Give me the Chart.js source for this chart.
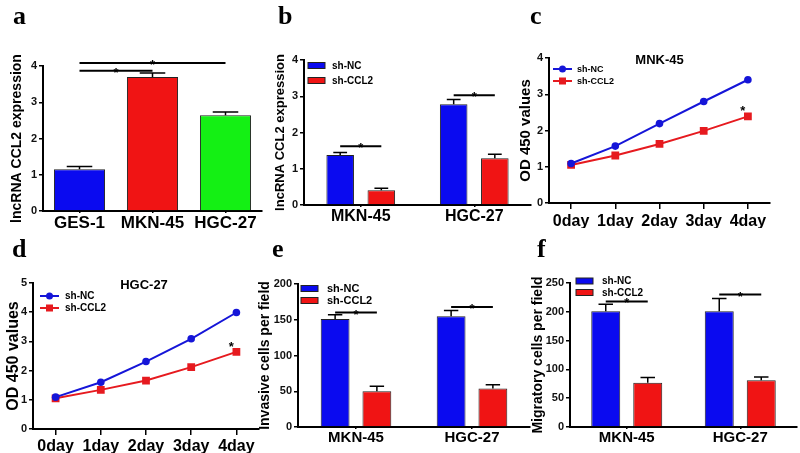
<!DOCTYPE html>
<html><head><meta charset="utf-8">
<script src="https://cdn.jsdelivr.net/npm/chart.js@4.4.1/dist/chart.umd.min.js"></script>
<style>
html,body{margin:0;padding:0;background:#fff;}
#wrap{position:relative;width:800px;height:453px;overflow:hidden;background:#fff;}
canvas{position:absolute;}
.lab{position:absolute;font-family:"Liberation Serif","Times New Roman",serif;font-weight:bold;font-size:26px;line-height:26px;color:#000;}
</style></head><body>
<div id="wrap">
<canvas id="ca" width="265" height="232" style="left:0;top:0"></canvas>
<canvas id="cb" width="268" height="228" style="left:265px;top:0"></canvas>
<canvas id="cc" width="285" height="228" style="left:515px;top:0"></canvas>
<canvas id="cd" width="265" height="225" style="left:0;top:228px"></canvas>
<canvas id="ce" width="277" height="225" style="left:255px;top:228px"></canvas>
<canvas id="cf" width="272" height="225" style="left:528px;top:228px"></canvas>
<div class="lab" style="left:13px;top:3px">a</div>
<div class="lab" style="left:278px;top:3px">b</div>
<div class="lab" style="left:530px;top:3px">c</div>
<div class="lab" style="left:12px;top:236px">d</div>
<div class="lab" style="left:272px;top:236px">e</div>
<div class="lab" style="left:537px;top:236px">f</div>
</div>
<script>
// ---------- data ----------
const seriesNames = ['sh-NC', 'sh-CCL2'];
// panel a
const catA = ['GES-1', 'MKN-45', 'HGC-27'];
const valA = [1.15, 3.70, 2.64];
const errA = [0.08, 0.11, 0.09];
const sigAY = [3.87, 4.08];
// panel b
const catB = ['MKN-45', 'HGC-27'];
const ncB = [1.38, 2.78];
const ncBErr = [0.07, 0.13];
const ccl2B = [0.41, 1.29];
const ccl2BErr = [0.05, 0.11];
const sigBY = [1.62, 3.03];
// panel c / d
const days = ['0day', '1day', '2day', '3day', '4day'];
const ncC = [1.09, 1.57, 2.19, 2.80, 3.40];
const ccl2C = [1.05, 1.31, 1.63, 1.99, 2.39];
const ncD = [1.09, 1.60, 2.31, 3.09, 3.99];
const ccl2D = [1.05, 1.34, 1.66, 2.12, 2.64];
// panel e
const catE = ['MKN-45', 'HGC-27'];
const ncE = [151, 155];
const ncEErr = [6, 8];
const ccl2E = [50, 54];
const ccl2EErr = [7, 5];
const sigEY = [160, 168];
// panel f
const catF = ['MKN-45', 'HGC-27'];
const ncF = [201, 201];
const ncFErr = [12, 22];
const ccl2F = [77, 81];
const ccl2FErr = [9, 6];
const sigFY = [218, 230];

// ---------- style ----------
const F = '"Liberation Sans", Arial, sans-serif';
const BLUE = '#0a0af0', RED = '#f01414', GREEN = '#14f014';
const LBLUE = '#1515d8', LRED = '#e61a1f';

const decor = {
  id: 'decor',
  afterDatasetsDraw(chart, args, o) {
    const ctx = chart.ctx, ys = chart.scales.y, ca = chart.chartArea;
    ctx.save();
    ctx.strokeStyle = '#000'; ctx.fillStyle = '#000';
    (o.errors || []).forEach((errs, di) => {
      if (!errs) return;
      chart.getDatasetMeta(di).data.forEach((el, i) => {
        const v = chart.data.datasets[di].data[i];
        const yt = ys.getPixelForValue(v + errs[i]);
        const cw = el.width * 0.5;
        ctx.lineWidth = 1.5;
        ctx.beginPath();
        ctx.moveTo(el.x, el.y); ctx.lineTo(el.x, yt);
        ctx.moveTo(el.x - cw / 2, yt); ctx.lineTo(el.x + cw / 2, yt);
        ctx.stroke();
      });
    });
    (o.sig || []).forEach(s => {
      const a = chart.getDatasetMeta(s.from[0]).data[s.from[1]];
      const b = chart.getDatasetMeta(s.to[0]).data[s.to[1]];
      const y = ys.getPixelForValue(s.y);
      ctx.lineWidth = 2;
      ctx.beginPath(); ctx.moveTo(a.x, y); ctx.lineTo(b.x, y); ctx.stroke();
      ctx.font = 'bold 13px ' + F; ctx.textAlign = 'center'; ctx.textBaseline = 'alphabetic';
      ctx.fillText('*', (a.x + b.x) / 2, y + 6);
    });
    (o.pointStars || []).forEach(p => {
      const el = chart.getDatasetMeta(p[0]).data[p[1]];
      ctx.font = 'bold 13px ' + F; ctx.textAlign = 'center'; ctx.textBaseline = 'alphabetic';
      ctx.fillText('*', el.x - 5, el.y - 1);
    });
    if (o.title) {
      ctx.font = 'bold ' + o.title.size + 'px ' + F; ctx.textAlign = 'center'; ctx.textBaseline = 'middle';
      ctx.fillText(o.title.text, (ca.left + ca.right) / 2 + o.title.dx, ca.top + o.title.dy);
    }
    if (o.legend) {
      const L = o.legend;
      chart.data.datasets.forEach((ds, i) => {
        const cy = ca.top + L.y + i * L.dy;
        const x0 = ca.left + L.x;
        if (L.type === 'bar') {
          ctx.fillStyle = ds.backgroundColor;
          ctx.fillRect(x0, cy - 3, 17, 6);
          ctx.strokeStyle = '#222'; ctx.lineWidth = 1;
          ctx.strokeRect(x0, cy - 3, 17, 6);
        } else {
          ctx.strokeStyle = ds.borderColor; ctx.fillStyle = ds.borderColor; ctx.lineWidth = 2;
          ctx.beginPath(); ctx.moveTo(x0, cy); ctx.lineTo(x0 + 19, cy); ctx.stroke();
          if (ds.pointStyle === 'rect') ctx.fillRect(x0 + 9.5 - 3.5, cy - 3.5, 7, 7);
          else { ctx.beginPath(); ctx.arc(x0 + 9.5, cy, 3.5, 0, Math.PI * 2); ctx.fill(); }
        }
        ctx.fillStyle = '#000';
        ctx.font = 'bold ' + L.size + 'px ' + F; ctx.textAlign = 'left'; ctx.textBaseline = 'middle';
        ctx.fillText(ds.label, ca.left + L.tx, cy + 0.5);
      });
    }
    ctx.restore();
  }
};

function yScale(max, step, title, w, tsize, tpad) {
  return {
    min: 0, max: max,
    ticks: { stepSize: step, color: '#111', font: { family: F, weight: 'bold', size: 11 }, padding: 2 },
    grid: { display: true, drawOnChartArea: false, drawTicks: true, tickLength: 4, color: '#000', lineWidth: 1.5 },
    border: { display: true, color: '#000', width: 2 },
    title: { display: true, text: title, color: '#000', font: { family: F, weight: 'bold', size: tsize }, padding: { top: tpad, bottom: 0 } },
    afterFit(s) { s.width = w; }
  };
}
function xScale(h, size, tlen, tpad) {
  return {
    offset: true,
    ticks: { color: '#000', font: { family: F, weight: 'bold', size: size }, padding: tpad, maxRotation: 0, autoSkip: false },
    grid: { display: true, drawOnChartArea: false, offset: false, drawTicks: true, tickLength: tlen, color: '#000', lineWidth: 1.5 },
    border: { display: true, color: '#000', width: 2 },
    afterFit(s) { s.height = h; }
  };
}
function baseOpts(pad, scales, dec) {
  return {
    responsive: false, animation: false, devicePixelRatio: 1,
    layout: { padding: pad },
    plugins: { legend: { display: false }, tooltip: { enabled: false }, decor: dec },
    scales: scales
  };
}
function barDs(label, data, color, cp, bp) {
  return { label, data, backgroundColor: color, borderColor: '#222', borderWidth: 1, categoryPercentage: cp, barPercentage: bp };
}
function lineDs(label, data, color, style, r) {
  return { label, data, borderColor: color, backgroundColor: color, borderWidth: 2, pointStyle: style, pointRadius: r, pointBorderWidth: 0, pointBackgroundColor: color, tension: 0 };
}

// panel a
new Chart(document.getElementById('ca'), {
  type: 'bar', plugins: [decor],
  data: { labels: catA, datasets: [{ label: 'expr', data: valA, backgroundColor: [BLUE, RED, GREEN], borderColor: '#222', borderWidth: 1, categoryPercentage: 1, barPercentage: 0.7 }] },
  options: baseOpts({ top: 66, left: 0, right: 3, bottom: 0 },
    { x: xScale(21, 17, 2, 0), y: yScale(4, 1, 'lncRNA CCL2 expression', 43, 14, 9) },
    { errors: [errA], sig: [{ from: [0, 0], to: [0, 1], y: sigAY[0] }, { from: [0, 0], to: [0, 2], y: sigAY[1] }] })
});
// panel b
new Chart(document.getElementById('cb'), {
  type: 'bar', plugins: [decor],
  data: { labels: catB, datasets: [barDs(seriesNames[0], ncB, BLUE, 0.725, 0.67), barDs(seriesNames[1], ccl2B, RED, 0.725, 0.67)] },
  options: baseOpts({ top: 60, left: 0, right: 2, bottom: 0 },
    { x: xScale(23, 16, 2, 0), y: yScale(4, 1, 'lncRNA CCL2 expression', 39, 13, 8) },
    { errors: [ncBErr, ccl2BErr], sig: [{ from: [0, 0], to: [1, 0], y: sigBY[0] }, { from: [0, 1], to: [1, 1], y: sigBY[1] }],
      legend: { type: 'bar', x: 4, y: 5.5, dy: 15, tx: 28, size: 10 } })
});
// panel c
new Chart(document.getElementById('cc'), {
  type: 'line', plugins: [decor],
  data: { labels: days, datasets: [lineDs(seriesNames[0], ncC, LBLUE, 'circle', 3.8), lineDs(seriesNames[1], ccl2C, LRED, 'rect', 5.5)] },
  options: baseOpts({ top: 58, left: 0, right: 30, bottom: 0 },
    { x: xScale(25, 16, 6, 3), y: yScale(4, 1, 'OD 450 values', 34, 15, 2) },
    { pointStars: [[1, 4]], title: { text: 'MNK-45', size: 13, dx: 0, dy: 2 },
      legend: { type: 'line', x: 4, y: 11, dy: 12, tx: 28, size: 9 } })
});
// panel d
new Chart(document.getElementById('cd'), {
  type: 'line', plugins: [decor],
  data: { labels: days, datasets: [lineDs(seriesNames[0], ncD, LBLUE, 'circle', 3.8), lineDs(seriesNames[1], ccl2D, LRED, 'rect', 5.5)] },
  options: baseOpts({ top: 55, left: 0, right: 6, bottom: 0 },
    { x: xScale(24, 16, 6, 2), y: yScale(5, 1, 'OD 450 values', 33, 16, 4) },
    { pointStars: [[1, 4]], title: { text: 'HGC-27', size: 13, dx: -2, dy: 2 },
      legend: { type: 'line', x: 7, y: 13, dy: 12, tx: 32, size: 10 } })
});
// panel e
new Chart(document.getElementById('ce'), {
  type: 'bar', plugins: [decor],
  data: { labels: catE, datasets: [barDs(seriesNames[0], ncE, BLUE, 0.72, 0.69), barDs(seriesNames[1], ccl2E, RED, 0.72, 0.69)] },
  options: baseOpts({ top: 56, left: 0, right: 2, bottom: 0 },
    { x: xScale(26, 15, 2, 0), y: yScale(200, 50, 'Invasive cells per field', 43, 14, 2) },
    { errors: [ncEErr, ccl2EErr], sig: [{ from: [0, 0], to: [1, 0], y: sigEY[0] }, { from: [0, 1], to: [1, 1], y: sigEY[1] }],
      legend: { type: 'bar', x: 3, y: 4.5, dy: 12, tx: 29, size: 11 } })
});
// panel f
new Chart(document.getElementById('cf'), {
  type: 'bar', plugins: [decor],
  data: { labels: catF, datasets: [barDs(seriesNames[0], ncF, BLUE, 0.74, 0.69), barDs(seriesNames[1], ccl2F, RED, 0.74, 0.69)] },
  options: baseOpts({ top: 55, left: 0, right: 3, bottom: 0 },
    { x: xScale(26, 15, 2, 0), y: yScale(250, 50, 'Migratory cells per field', 42, 14, 2) },
    { errors: [ncFErr, ccl2FErr], sig: [{ from: [0, 0], to: [1, 0], y: sigFY[0] }, { from: [0, 1], to: [1, 1], y: sigFY[1] }],
      legend: { type: 'bar', x: 6, y: -2, dy: 11.5, tx: 32, size: 10 } })
});
</script>
</body></html>
